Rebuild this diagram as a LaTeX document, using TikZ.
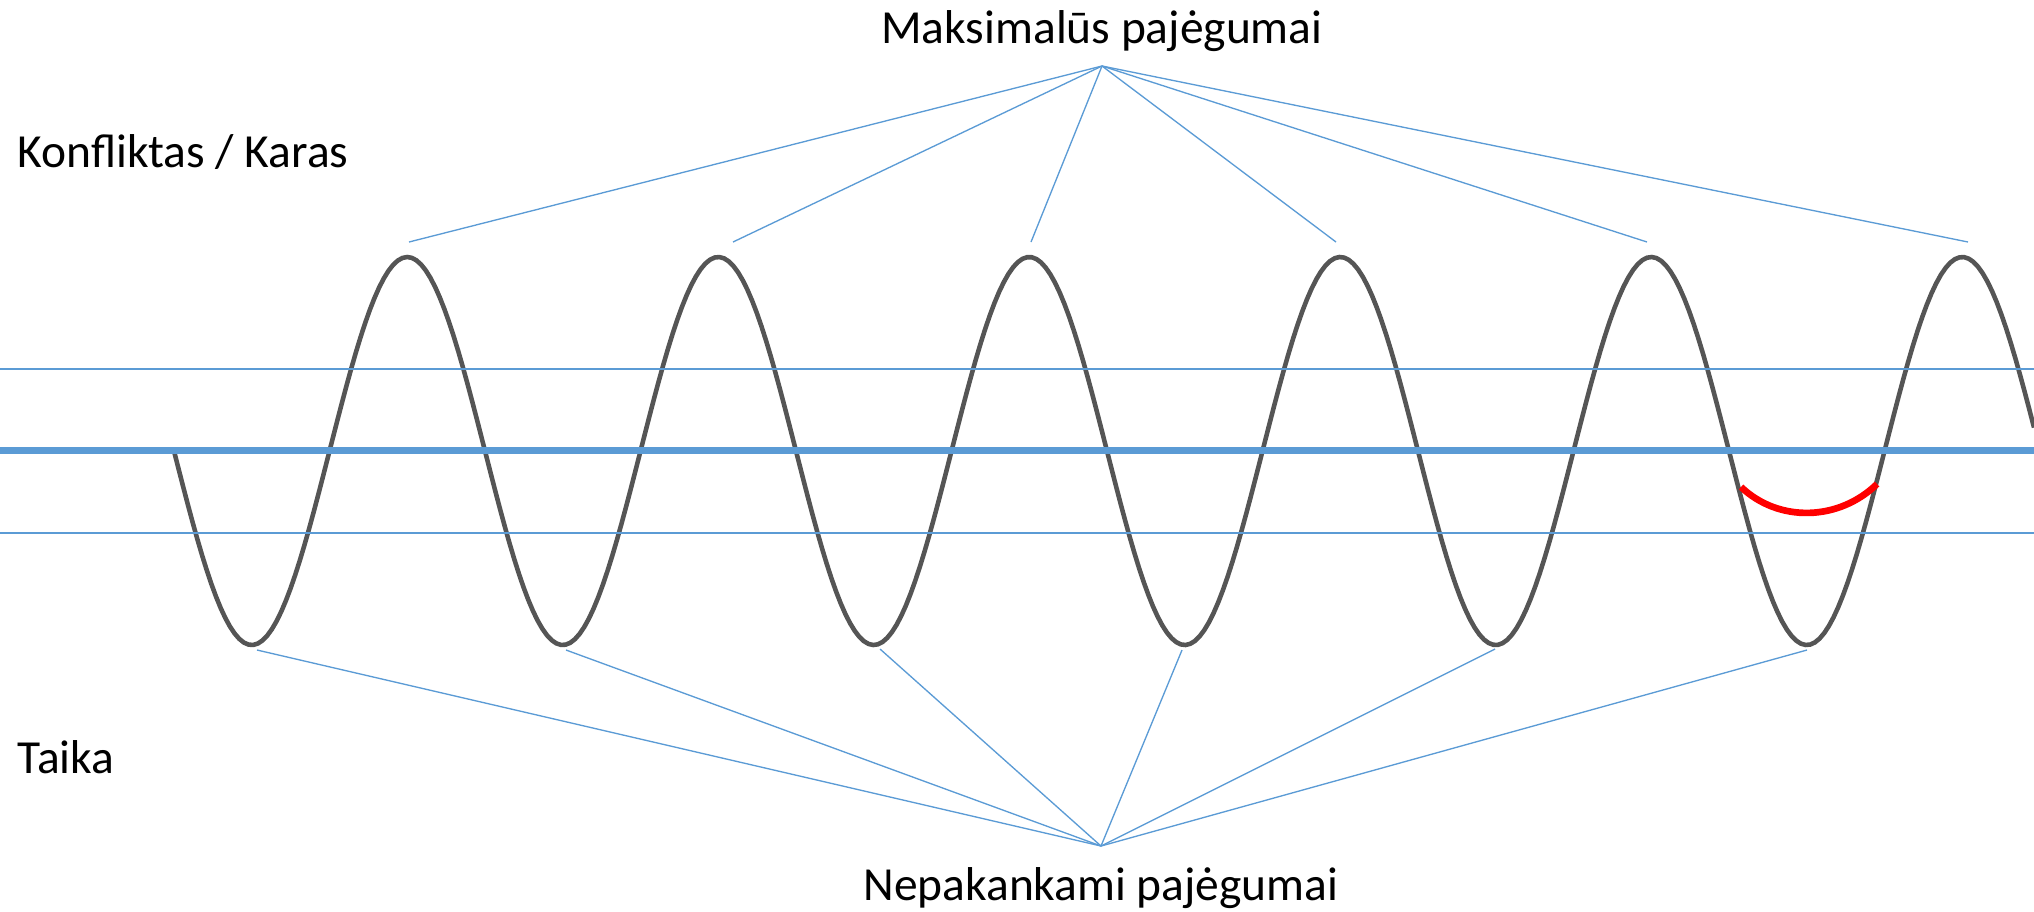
\documentclass[tikz,border=0pt]{standalone}
\usepackage{fontspec}
\setmainfont{Carlito}
\usepackage{xcolor}
\usepackage{tikz}

\definecolor{lineblue}{RGB}{91,155,213}
\definecolor{wavegray}{RGB}{85,85,85}

\begin{document}
\begin{tikzpicture}[x=0.01cm, y=-0.01cm,
    label/.style={inner sep=0pt, font=\fontsize{13.5}{16}\selectfont},
    guide/.style={lineblue, line width=0.55pt},
    spoke/.style={lineblue, line width=0.38pt}]
    \useasboundingbox (0,0) rectangle (2034,911);

    % Labels
    \node[label, anchor=base] (maks) at (1102,43) {Maksimalūs pajėgumai};
    \node[label, anchor=base] (nepak) at (1101,900) {Nepakankami pajėgumai};
    \node[label, anchor=base west] (karas) at (17,167) {Konfliktas / Karas};
    \node[label, anchor=base west] (taika) at (17,773) {Taika};

    % Wave (period 311, 360/311 = 1.157556)
    \draw[wavegray, line width=1.3pt] plot[domain=174:2034, samples=400]
        (\x, {451 + 194*sin(1.157556*(\x-174))});

    % Levels
    \coordinate (hiL) at (0,369);
    \coordinate (hiR) at (2034,369);
    \coordinate (midL) at (0,450);
    \coordinate (midR) at (2034,450);
    \coordinate (loL) at (0,533);
    \coordinate (loR) at (2034,533);
    \draw[guide] (hiL) -- (hiR);
    \draw[lineblue, line width=2pt] (midL) -- (midR);
    \draw[guide] (loL) -- (loR);

    % Peaks
    \coordinate (top) at (1102,66);
    \coordinate (p1) at (409,242);
    \coordinate (p2) at (733,242);
    \coordinate (p3) at (1031,242);
    \coordinate (p4) at (1336,242);
    \coordinate (p5) at (1647,242);
    \coordinate (p6) at (1968,242);
    \draw[spoke] (top) -- (p1);
    \draw[spoke] (top) -- (p2);
    \draw[spoke] (top) -- (p3);
    \draw[spoke] (top) -- (p4);
    \draw[spoke] (top) -- (p5);
    \draw[spoke] (top) -- (p6);

    % Troughs
    \coordinate (bot) at (1101,846);
    \coordinate (t1) at (257,650);
    \coordinate (t2) at (566,650);
    \coordinate (t3) at (880,649);
    \coordinate (t4) at (1182,650);
    \coordinate (t5) at (1495,649);
    \coordinate (t6) at (1807,650);
    \draw[spoke] (bot) -- (t1);
    \draw[spoke] (bot) -- (t2);
    \draw[spoke] (bot) -- (t3);
    \draw[spoke] (bot) -- (t4);
    \draw[spoke] (bot) -- (t5);
    \draw[spoke] (bot) -- (t6);

    % Dip
    \coordinate (dipL) at (1741,487);
    \coordinate (dipR) at (1877,484);
    \draw[red, line width=1.9pt] (dipL) .. controls (1779,523) and (1839,521) .. (dipR);
\end{tikzpicture}
\end{document}
